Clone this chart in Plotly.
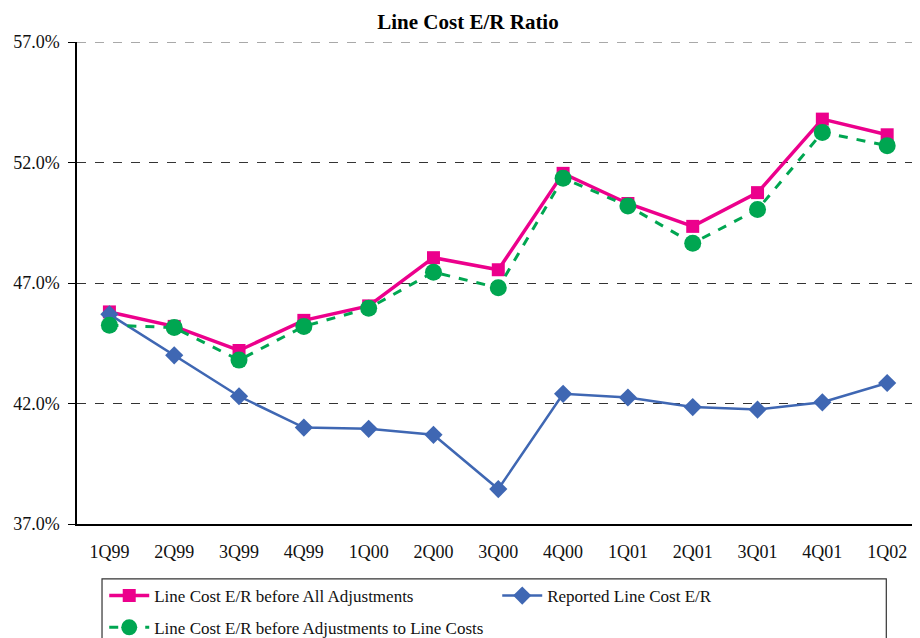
import plotly.graph_objects as go

# Квартальные значения, %
quarters = ["1Q99", "2Q99", "3Q99", "4Q99", "1Q00", "2Q00", "3Q00",
            "4Q00", "1Q01", "2Q01", "3Q01", "4Q01", "1Q02"]
before_all = [45.8, 45.2, 44.2, 45.45, 46.05, 48.05, 47.55,
              51.55, 50.3, 49.35, 50.75, 53.8, 53.15]
reported = [45.7, 44.0, 42.3, 41.0, 40.95, 40.7, 38.45,
            42.4, 42.25, 41.85, 41.75, 42.05, 42.85]
before_line_costs = [45.25, 45.15, 43.8, 45.2, 45.95, 47.45, 46.8,
                     51.35, 50.2, 48.65, 50.05, 53.25, 52.7]
y_ticks = [37, 42, 47, 52, 57]
y_labels = [f"{v:.1f}%" for v in y_ticks]

PINK = "#EC008C"
BLUE = "#3F67B3"
GREEN = "#00A651"
SERIF = "Liberation Serif, Times New Roman, serif"

fig = go.Figure()

fig.add_trace(go.Scatter(
    x=quarters, y=before_all,
    mode="lines+markers",
    name="Line Cost E/R before All Adjustments",
    line=dict(color=PINK, width=3.5),
    marker=dict(symbol="square", size=13, color=PINK),
    legend="legend"
))

fig.add_trace(go.Scatter(
    x=quarters, y=reported,
    mode="lines+markers",
    name="Reported Line Cost E/R",
    line=dict(color=BLUE, width=2.5),
    marker=dict(symbol="diamond", size=14, color=BLUE),
    legend="legend"
))

fig.add_trace(go.Scatter(
    x=quarters, y=before_line_costs,
    mode="lines+markers",
    name="Line Cost E/R before Adjustments to Line Costs",
    line=dict(color=GREEN, width=3, dash="dash"),
    marker=dict(symbol="circle", size=17, color=GREEN),
    legend="legend2"
))

# верхняя линия сетки (на краю диапазона plotly её не рисует)
fig.add_hline(y=y_ticks[-1], line_dash="dash", line_color="#555555", line_width=1.2)

# рамка легенды (снизу обрезана краем окна)
fig.add_shape(type="rect", xref="paper", yref="paper",
              x0=0.0294, x1=0.951, y0=-0.114, y1=-0.30,
              line=dict(color="#333333", width=1.2))

fig.update_layout(
    width=920, height=638,
    margin=dict(l=69, r=0, t=34, b=122),
    paper_bgcolor="white",
    plot_bgcolor="white",
    font=dict(family=SERIF, size=17, color="#111111"),
    title=dict(text="<b>Line Cost E/R Ratio</b>", x=0.5, xref="container",
               y=0.979, yanchor="middle", yref="container",
               font=dict(family=SERIF, size=21, color="black")),
    xaxis=dict(
        type="category",
        range=[-0.5, 12.63],
        showline=True, linecolor="black", linewidth=1.5,
        ticks="", showgrid=False,
        tickfont=dict(family=SERIF, size=18, color="#111111"),
        ticklabelstandoff=11
    ),
    yaxis=dict(
        range=[37, 57],
        tickvals=y_ticks, ticktext=y_labels,
        showline=True, linecolor="black", linewidth=1.5,
        ticks="outside", ticklen=7, tickcolor="black",
        showgrid=True, gridcolor="#333333", griddash="dash", gridwidth=1,
        zeroline=False,
        tickfont=dict(family=SERIF, size=18, color="#111111"),
        ticklabelstandoff=5
    ),
    legend=dict(
        orientation="h", x=0.032, xanchor="left", y=-0.112, yanchor="top",
        entrywidth=338, entrywidthmode="pixels",
        font=dict(family=SERIF, size=17, color="#111111"),
        bgcolor="rgba(0,0,0,0)", itemwidth=40
    ),
    legend2=dict(
        orientation="h", x=0.032, xanchor="left", y=-0.178, yanchor="top",
        font=dict(family=SERIF, size=17, color="#111111"),
        bgcolor="rgba(0,0,0,0)", itemwidth=40
    ),
)

fig.write_html("out.html")
